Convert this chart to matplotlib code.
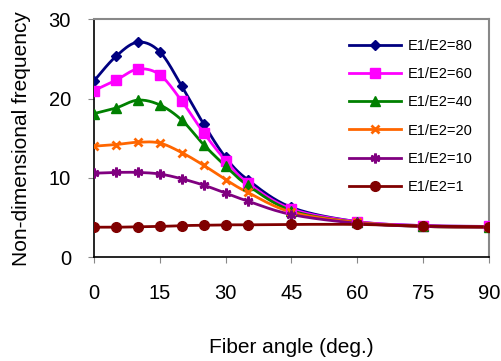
import numpy as np
import matplotlib
matplotlib.use("Agg")
import matplotlib.pyplot as plt

plt.rcParams["font.family"] = ["Liberation Sans", "DejaVu Sans"]

angle = [0, 5, 10, 15, 20, 25, 30, 35, 45, 60, 75, 90]

freq_80 = [22.2, 25.3, 27.1, 25.9, 21.6, 16.8, 12.6, 9.8, 6.3, 4.5, 4.0, 3.9]
freq_60 = [21.0, 22.3, 23.7, 23.0, 19.7, 15.7, 12.2, 9.4, 6.1, 4.5, 4.0, 3.9]
freq_40 = [18.1, 18.8, 19.8, 19.2, 17.3, 14.2, 11.5, 9.1, 5.9, 4.4, 3.9, 3.8]
freq_20 = [14.0, 14.2, 14.5, 14.4, 13.2, 11.6, 9.8, 8.2, 5.7, 4.4, 3.9, 3.8]
freq_10 = [10.6, 10.7, 10.7, 10.5, 9.9, 9.1, 8.1, 7.1, 5.4, 4.3, 3.9, 3.8]
freq_1 = [3.8, 3.8, 3.85, 3.9, 4.0, 4.05, 4.1, 4.1, 4.15, 4.15, 3.95, 3.85]

labels = ["E1/E2=80", "E1/E2=60", "E1/E2=40", "E1/E2=20", "E1/E2=10", "E1/E2=1"]
colors = ["#000080", "#FF00FF", "#008000", "#FF6600", "#800080", "#800000"]
markers = ["D", "s", "^", "x", (6, 2, 0), "o"]
msizes = [5.5, 7, 7, 6, 7, 7]
mews = [1, 1, 1, 2, 2, 1]


def smooth(x, y, n=20):
    # Catmull-Rom style smoothing like a spreadsheet "smoothed line"
    x = np.asarray(x, float)
    y = np.asarray(y, float)
    xs, ys = [], []
    for i in range(len(x) - 1):
        i0 = max(i - 1, 0)
        i3 = min(i + 2, len(x) - 1)
        p0 = np.array([x[i0], y[i0]])
        p1 = np.array([x[i], y[i]])
        p2 = np.array([x[i + 1], y[i + 1]])
        p3 = np.array([x[i3], y[i3]])
        c1 = p1 + (p2 - p0) / 6.0
        c2 = p2 - (p3 - p1) / 6.0
        t = np.linspace(0, 1, n)[:, None]
        pts = ((1 - t) ** 3) * p1 + 3 * ((1 - t) ** 2) * t * c1 + 3 * (1 - t) * t ** 2 * c2 + t ** 3 * p2
        xs.extend(pts[:, 0])
        ys.extend(pts[:, 1])
    return xs, ys


fig = plt.figure(figsize=(5.02, 3.61), dpi=100)
ax = fig.add_axes([0.187, 0.287, 0.787, 0.660])

series = [freq_80, freq_60, freq_40, freq_20, freq_10, freq_1]
for vals, lab, c, m, ms, mw in zip(series, labels, colors, markers, msizes, mews):
    sx, sy = smooth(angle, vals)
    ax.plot(sx, sy, color=c, lw=2, zorder=2)
    ax.plot(angle, vals, linestyle="none", marker=m, color=c, markersize=ms,
            markeredgewidth=mw, zorder=3)
    ax.plot([], [], color=c, lw=2, marker=m, markersize=ms,
            markeredgewidth=mw, label=lab)

ax.set_xlim(0, 90)
ax.set_ylim(0, 30)
ax.set_xticks([0, 15, 30, 45, 60, 75, 90])
ax.set_yticks([0, 10, 20, 30])
ax.tick_params(axis="both", labelsize=14.5, length=4.5, color="#888888", direction="out")
ax.tick_params(axis="x", pad=15)
ax.tick_params(axis="y", pad=12)

for s in ["top", "right"]:
    ax.spines[s].set_color("#888888")
    ax.spines[s].set_linewidth(1.5)
for s in ["left", "bottom"]:
    ax.spines[s].set_color("black")
    ax.spines[s].set_linewidth(1.2)

ax.set_xlabel("Fiber angle (deg.)", fontsize=15, labelpad=25)
ax.set_ylabel("Non-dimensional frequency", fontsize=15, labelpad=13)

ax.legend(loc="upper left", bbox_to_anchor=((349 - 94) / 395, 0.918),
          borderaxespad=0, borderpad=0, frameon=False,
          fontsize=10.5, handlelength=3.6, labelspacing=0.98, handletextpad=0.4)

fig.savefig("out.png", dpi=100)
